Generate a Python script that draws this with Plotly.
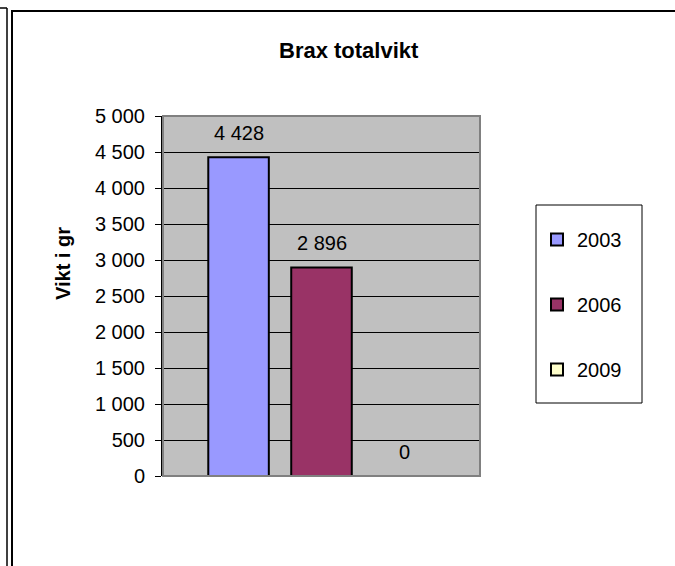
import plotly.graph_objects as go

categories = ["Brax"]
series_names = ["2003", "2006", "2009"]
series_values = [4428, 2896, 0]
series_colors = ["#9999FF", "#993366", "#FFFFCC"]
value_labels = ["4 428", "2 896", "0"]
tick_vals = [0, 500, 1000, 1500, 2000, 2500, 3000, 3500, 4000, 4500, 5000]
tick_text = ["0", "500", "1 000", "1 500", "2 000", "2 500", "3 000", "3 500", "4 000", "4 500", "5 000"]

W, H = 675, 566
L, R, T, B = 163, 480, 116, 476


def px(x):
    return (x - L) / (R - L)


def py(y):
    return (B - y) / (B - T)


FONT = "Liberation Sans, Arial, sans-serif"
FS = 20

fig = go.Figure()
for i, (name, val, col) in enumerate(zip(series_names, series_values, series_colors)):
    fig.add_trace(go.Bar(
        x=categories, y=[val], name=name,
        marker=dict(color=col, line=dict(color="#000000", width=2)),
        legendgroup=name,
        hoverinfo="skip",
    ))

slot = 83
for i, (val, lab) in enumerate(zip(series_values, value_labels)):
    fig.add_annotation(
        x=categories[0], y=val, xref="x", yref="y", text=lab, showarrow=False,
        xshift=(i - 1) * slot, yshift=24, yanchor="middle",
        font=dict(family=FONT, size=FS, color="#000000"),
    )

shapes = [
    # plot area border (gray)
    dict(type="rect", xref="paper", yref="paper", x0=0, x1=1, y0=0, y1=1,
         line=dict(color="#808080", width=2), layer="above"),
    # legend box
    dict(type="rect", xref="paper", yref="paper", x0=px(536), x1=px(642), y0=py(205), y1=py(403),
         line=dict(color="#000000", width=1), fillcolor="#FFFFFF", layer="below"),
    # outer frame lines
    dict(type="line", xref="paper", yref="paper", x0=px(12), x1=px(12), y0=py(11), y1=py(566),
         line=dict(color="#000000", width=2)),
    dict(type="line", xref="paper", yref="paper", x0=px(11), x1=px(675), y0=py(11), y1=py(11),
         line=dict(color="#000000", width=2)),
    dict(type="line", xref="paper", yref="paper", x0=px(7), x1=px(7), y0=py(8), y1=py(566),
         line=dict(color="#000000", width=1.5)),
    dict(type="line", xref="paper", yref="paper", x0=px(0), x1=px(7), y0=py(8), y1=py(8),
         line=dict(color="#000000", width=1.5)),
]

fig.add_annotation(
    x=px(63), y=py(264), xref="paper", yref="paper", text="<b>Vikt i gr</b>",
    xanchor="center", yanchor="middle",
    showarrow=False, textangle=-90, font=dict(family=FONT, size=FS, color="#000000"),
)
fig.add_annotation(
    x=px(349), y=py(50), xref="paper", yref="paper", text="<b>Brax totalvikt</b>",
    xanchor="center", yanchor="middle",
    showarrow=False, font=dict(family=FONT, size=22, color="#000000"),
)

fig.update_layout(
    width=W, height=H,
    margin=dict(l=L, r=W - R, t=T, b=H - B, pad=0),
    paper_bgcolor="#FFFFFF", plot_bgcolor="#C0C0C0",
    barmode="group", bargap=0.215, bargroupgap=0.27,
    font=dict(family=FONT, size=FS, color="#000000"),
    showlegend=True,
    legend=dict(
        x=px(537), y=py(220), xanchor="left", yanchor="top",
        bgcolor="rgba(0,0,0,0)", borderwidth=0,
        tracegroupgap=36, itemwidth=30,
        font=dict(family=FONT, size=FS, color="#000000"),
    ),
    shapes=shapes,
)
fig.update_xaxes(type="category", range=[-0.5, 0.5], showticklabels=False, showgrid=False,
                 zeroline=False, ticks="", showline=False, fixedrange=True)
fig.update_yaxes(
    range=[0, 5000], tickvals=tick_vals, ticktext=tick_text,
    showgrid=True, gridcolor="#000000", gridwidth=1, zeroline=False,
    showline=True, linecolor="#000000", linewidth=2,
    ticks="outside", ticklen=6, tickcolor="#000000", tickwidth=1,
    tickfont=dict(family=FONT, size=FS, color="#000000"),
    ticklabelstandoff=6,
)

fig.write_html("out.html", config={"displayModeBar": False},
               post_script="document.body.style.margin='0';")
